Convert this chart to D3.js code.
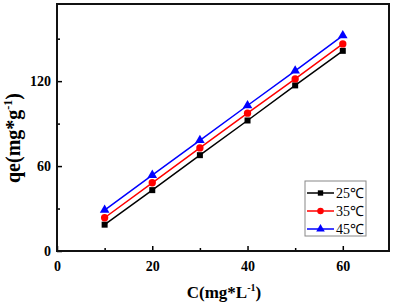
<!doctype html>
<html>
<head>
<meta charset="utf-8">
<script src="https://d3js.org/d3.v7.min.js"></script>
<style>
  body { margin: 0; background: #fff; }
  text { font-family: "Liberation Serif", "Times New Roman", serif; }
</style>
</head>
<body>
<div id="chart"></div>
<script>
// data
var concentrations = [10, 20, 30, 40, 50, 60];
var q25 = [18.6, 43.0, 67.7, 92.2, 117.0, 141.4];
var q35 = [23.5, 48.2, 72.8, 97.4, 121.6, 146.3];
var q45 = [28.9, 53.6, 78.2, 102.8, 127.3, 152.2];
var seriesNames = ["25℃", "35℃", "45℃"];
var xTicks = [0, 20, 40, 60];
var yTicks = [0, 60, 120];

var W = 393, H = 304;
var margin = { top: 4, right: 4, bottom: 53, left: 57 };
var width = W - margin.left - margin.right,
    height = H - margin.top - margin.bottom;

var svg = d3.select("#chart").append("svg")
    .attr("width", W).attr("height", H);
var g = svg.append("g")
    .attr("transform", "translate(" + margin.left + "," + margin.top + ")");

var x = d3.scaleLinear().domain([0, 69.7]).range([0, width]);
var y = d3.scaleLinear().domain([0, 174.5]).range([height, 0]);

// ticks (all pointing inward)
g.append("g")
    .attr("transform", "translate(0," + height + ")")
    .call(d3.axisBottom(x).tickValues([10, 30, 50]).tickSize(-3).tickFormat(""))
    .call(function (a) { a.select(".domain").remove(); a.selectAll("line").attr("stroke-width", 1.5); });
g.append("g")
    .attr("transform", "translate(0," + height + ")")
    .call(d3.axisBottom(x).tickValues(xTicks).tickSize(-5).tickPadding(10))
    .call(function (a) {
        a.select(".domain").remove();
        a.selectAll("line").attr("stroke-width", 1.5);
        a.selectAll("text").attr("font-size", 14).attr("font-weight", "bold")
            .attr("font-family", "Liberation Serif, serif").attr("fill", "#000");
    });
g.append("g")
    .call(d3.axisLeft(y).tickValues([30, 90, 150]).tickSize(-3).tickFormat(""))
    .call(function (a) { a.select(".domain").remove(); a.selectAll("line").attr("stroke-width", 1.5); });
g.append("g")
    .call(d3.axisLeft(y).tickValues(yTicks).tickSize(-5).tickPadding(6))
    .call(function (a) {
        a.select(".domain").remove();
        a.selectAll("line").attr("stroke-width", 1.5);
        a.selectAll("text").attr("font-size", 14).attr("font-weight", "bold")
            .attr("font-family", "Liberation Serif, serif").attr("fill", "#000");
    });

// frame
g.append("rect")
    .attr("width", width).attr("height", height)
    .attr("fill", "none").attr("stroke", "#111").attr("stroke-width", 2);

var series = [
    { name: seriesNames[0], values: q25, color: "#000000", shape: d3.symbolSquare, size: 36 },
    { name: seriesNames[1], values: q35, color: "#ff0000", shape: d3.symbolCircle, size: 42 },
    { name: seriesNames[2], values: q45, color: "#0000ff", shape: d3.symbolTriangle, size: 40 }
];

var line = d3.line()
    .x(function (d) { return x(d[0]); })
    .y(function (d) { return y(d[1]); });

series.forEach(function (s) {
    var pts = concentrations.map(function (c, i) { return [c, s.values[i]]; });
    g.append("path")
        .datum(pts)
        .attr("d", line)
        .attr("fill", "none")
        .attr("stroke", s.color)
        .attr("stroke-width", 1.5);
    g.selectAll(null)
        .data(pts)
        .enter().append("path")
        .attr("d", d3.symbol().type(s.shape).size(s.size))
        .attr("transform", function (d) { return "translate(" + x(d[0]) + "," + y(d[1]) + ")"; })
        .attr("fill", s.color);
});

// legend
var lg = svg.append("g").attr("transform", "translate(305,181)");
lg.append("rect")
    .attr("width", 61).attr("height", 55)
    .attr("fill", "#fff").attr("stroke", "#888").attr("stroke-width", 1);
series.forEach(function (s, i) {
    var yy = 12 + i * 18;
    lg.append("line")
        .attr("x1", 2).attr("x2", 29).attr("y1", yy).attr("y2", yy)
        .attr("stroke", s.color).attr("stroke-width", 1.5);
    lg.append("path")
        .attr("d", d3.symbol().type(s.shape).size(s.size * 0.8))
        .attr("transform", "translate(15.5," + yy + ")")
        .attr("fill", s.color);
    lg.append("text")
        .attr("x", 31).attr("y", yy + 5)
        .attr("font-size", 14)
        .text(s.name);
});

// axis titles
svg.append("text")
    .attr("x", 224).attr("y", 298)
    .attr("text-anchor", "middle")
    .attr("font-size", 17).attr("font-weight", "bold")
    .html('C(mg*L<tspan dy="-7" font-size="10">-1</tspan><tspan dy="7">)</tspan>');
svg.append("text")
    .attr("transform", "translate(20,138) rotate(-90)")
    .attr("text-anchor", "middle")
    .attr("font-size", 20).attr("font-weight", "bold")
    .html('qe(mg*g<tspan dy="-8" font-size="12">-1</tspan><tspan dy="8">)</tspan>');
</script>
</body>
</html>
